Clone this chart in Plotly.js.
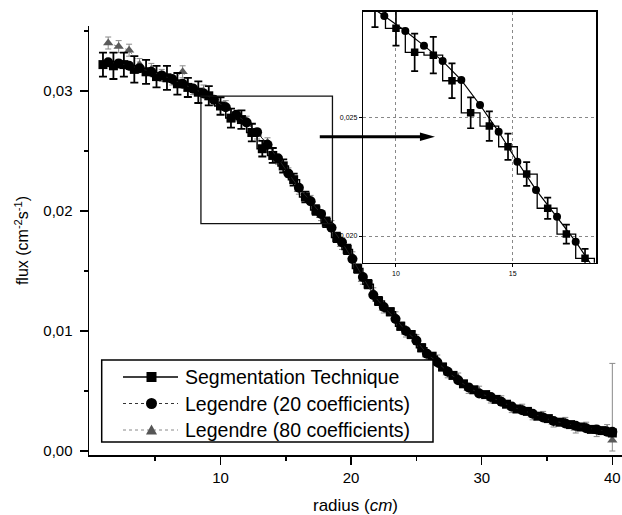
<!DOCTYPE html>
<html>
<head>
<meta charset="utf-8">
<script src="https://cdn.plot.ly/plotly-3.0.1.min.js"></script>
<style>html,body{margin:0;padding:0;background:#fff;}#chart{width:622px;height:515px;}</style>
</head>
<body>
<div id="chart"></div>
<script>
// ---- data ----
var seriesNames = ["Segmentation Technique", "Legendre (20 coefficients)", "Legendre (80 coefficients)"];

var segRadius = [1.0,1.8,2.6,3.4,4.3,5.1,5.9,6.7,7.5,8.3,9.1,
  10.0,10.8,11.6,12.4,13.2,14.0,14.8,15.6,16.5,17.3,18.1,
  18.9,19.7,20.5,21.3,22.1,23.0,23.8,24.6,25.4,26.2,27.0,27.8,28.6,29.4,30.3,31.1,31.9,32.7,33.5,34.3,35.1,36.0,36.8,37.6,38.4,39.2,40.0];
var segFlux = [0.0322,0.0321,0.0322,0.0318,0.0316,0.0312,0.0311,0.0306,0.0303,0.0299,0.0296,
  0.02875,0.02774,0.02762,0.02654,0.02519,0.02463,0.02376,0.02261,0.02117,0.02008,0.01906,
  0.0178,0.0168,0.0152,0.0139,0.0125,0.0116,0.0104,0.0097,0.0086,0.0079,0.0070,0.0063,0.0056,0.0051,0.0047,0.0043,0.0039,0.0035,0.0033,0.0029,0.0027,0.0024,0.0022,0.0020,0.0018,0.0017,0.0015];
var segErr = [0.0010,0.0011,0.0010,0.0011,0.0010,0.0009,0.0010,0.0009,0.0008,0.0009,0.0008,
  0.00073,0.00079,0.00077,0.00073,0.00065,0.00062,0.00055,0.0005,0.00045,0.0004,0.0004,
  0.0004,0.0004,0.00035,0.00035,0.00035,0.0003,0.0003,0.0003,0.0003,0.00028,0.00028,0.00025,0.00025,0.00025,0.00022,0.00022,0.0002,0.0002,0.0002,0.0002,0.00018,0.00018,0.00018,0.00018,0.00016,0.00016,0.00016];

var legRadius = [1.4,2.2,3.0,3.8,4.7,5.5,6.3,7.1,7.9,8.7,9.5,
  10.4,11.2,12.0,12.8,13.6,14.4,15.2,16.0,16.9,17.7,18.5,
  19.3,20.1,20.9,21.7,22.5,23.4,24.2,25.0,25.8,26.6,27.4,28.2,29.0,29.8,30.7,31.5,32.3,33.1,33.9,34.7,35.5,36.4,37.2,38.0,38.8,39.6,40.0];
var leg20Flux = [0.0324,0.0323,0.0321,0.0319,0.0316,0.0313,0.0310,0.0306,0.0302,0.0298,0.02927,
  0.02864,0.02802,0.02737,0.02657,0.02552,0.02439,0.02313,0.02194,0.02081,0.01976,0.0186,
  0.0174,0.0160,0.0145,0.0130,0.0120,0.0110,0.0100,0.0092,0.0081,0.0074,0.0066,0.0059,0.0053,0.0048,0.0045,0.0041,0.0037,0.0034,0.0031,0.0028,0.0025,0.0023,0.0021,0.0019,0.0018,0.0016,0.0016];
var leg80Flux = [0.0340,0.0337,0.0334,0.0322,0.0318,0.0313,0.0309,0.0316,0.0301,0.0300,0.0292,
  0.0288,0.0279,0.0275,0.0264,0.0257,0.0243,0.0232,0.0218,0.0209,0.0196,0.0188,
  0.0172,0.0162,0.0143,0.0132,0.0119,0.0112,0.0099,0.0093,0.0080,0.0076,0.0065,0.0061,0.0052,0.0050,0.0044,0.0042,0.0036,0.0035,0.0030,0.0029,0.0024,0.0024,0.0019,0.0020,0.0016,0.0018,0.0009];
var leg80ErrPlus = [0.0005,0.0005,0.0005,0.0005,0.0005,0.0005,0.0004,0.0005,0.0004,0.0005,0.0004,
  0.0004,0.0004,0.0004,0.0004,0.0004,0.0004,0.0004,0.0004,0.0004,0.0004,0.0004,
  0.0004,0.0004,0.0004,0.0004,0.0004,0.0004,0.0004,0.0004,0.0004,0.0004,0.0004,0.0004,0.0004,0.0004,0.0004,0.0004,0.0004,0.0004,0.0004,0.0004,0.0004,0.0004,0.0004,0.0004,0.0004,0.0004,0.0064];
var leg80ErrMinus = [0.0005,0.0005,0.0005,0.0005,0.0005,0.0005,0.0004,0.0005,0.0004,0.0005,0.0004,
  0.0004,0.0004,0.0004,0.0004,0.0004,0.0004,0.0004,0.0004,0.0004,0.0004,0.0004,
  0.0004,0.0004,0.0004,0.0004,0.0004,0.0004,0.0004,0.0004,0.0004,0.0004,0.0004,0.0004,0.0004,0.0004,0.0004,0.0004,0.0004,0.0004,0.0004,0.0004,0.0004,0.0004,0.0004,0.0004,0.0004,0.0004,0.0009];

var mainXTicks = [10,20,30,40];
var mainXMinor = [5,15,25,35];
var mainYTicks = [0,0.01,0.02,0.03];
var mainYMinor = [0.005,0.015,0.025,0.035];
var insetXTicks = [10,15];
var insetYTicks = [0.020,0.025];
var zoomBox = {x0: 8.5, x1: 18.57, y0: 0.01894, y1: 0.02958};

// ---- layout helpers ----
var W = 622, H = 515, M = {l: 89, r: 0, t: 10, b: 60};
var PW = W - M.l - M.r, PH = H - M.t - M.b;
function px(x) { return (x - M.l) / PW; }
function py(y) { return (H - M.b - y) / PH; }
var FONT = "Liberation Sans, Arial, Helvetica, sans-serif";

var traces = [
  // main plot
  {x: legRadius, y: leg80Flux, xaxis: 'x', yaxis: 'y', type: 'scatter', mode: 'lines+markers',
   name: seriesNames[2], line: {color: '#8a8a8a', width: 1, dash: 'dot'},
   marker: {symbol: 'triangle-up', size: 9, color: '#5a5a5a'},
   error_y: {type: 'data', symmetric: false, array: leg80ErrPlus, arrayminus: leg80ErrMinus, color: '#8a8a8a', thickness: 1, width: 3}},
  {x: segRadius, y: segFlux, xaxis: 'x', yaxis: 'y', type: 'scatter', mode: 'lines+markers',
   name: seriesNames[0], line: {color: '#000', width: 1.5, shape: 'hvh'},
   marker: {symbol: 'square', size: 9, color: '#000'},
   error_y: {type: 'data', array: segErr, color: '#000', thickness: 1.8, width: 4}},
  {x: legRadius, y: leg20Flux, xaxis: 'x', yaxis: 'y', type: 'scatter', mode: 'lines+markers',
   name: seriesNames[1], line: {color: '#222', width: 1},
   marker: {symbol: 'circle', size: 10, color: '#000'}},
  // inset
  {x: segRadius, y: segFlux, xaxis: 'x2', yaxis: 'y2', type: 'scatter', mode: 'lines+markers',
   name: seriesNames[0], line: {color: '#000', width: 1.3, shape: 'hvh'},
   marker: {symbol: 'square', size: 7.5, color: '#000'},
   error_y: {type: 'data', array: segErr, color: '#000', thickness: 1.7, width: 3.5}},
  {x: legRadius, y: leg20Flux, xaxis: 'x2', yaxis: 'y2', type: 'scatter', mode: 'lines+markers',
   name: seriesNames[1], line: {color: '#000', width: 1.2},
   marker: {symbol: 'circle', size: 8, color: '#000'}}
];

// custom legend (box, sample lines, symbols, text)
var rows = [377, 403.5, 430];
var lx0 = 123, lx1 = 178, lxc = 151.5, ltext = 183;
// arrow from the zoom box to the inset (data units of the main axes)
var arrow = {x0: 17.6, x1: 26.42, y: 0.02619, headLen: 1.15, headHalf: 0.00035};
var shapes = [
  {type: 'rect', xref: 'x', yref: 'y', x0: zoomBox.x0, x1: zoomBox.x1, y0: zoomBox.y0, y1: zoomBox.y1,
   line: {color: '#111', width: 1.3}},
  {type: 'line', xref: 'x', yref: 'y', x0: arrow.x0, x1: arrow.x1 - arrow.headLen + 0.1, y0: arrow.y, y1: arrow.y,
   line: {color: '#000', width: 3}},
  {type: 'path', xref: 'x', yref: 'y',
   path: 'M' + (arrow.x1 - arrow.headLen) + ',' + (arrow.y + arrow.headHalf) + ' L' + arrow.x1 + ',' + arrow.y +
         ' L' + (arrow.x1 - arrow.headLen) + ',' + (arrow.y - arrow.headHalf) + ' Z',
   line: {width: 0}, fillcolor: '#000'},
  {type: 'rect', xref: 'paper', yref: 'paper', x0: px(101.7), x1: px(433), y0: py(442), y1: py(360),
   line: {color: '#000', width: 1.5}, fillcolor: '#fff'},
  {type: 'line', xref: 'paper', yref: 'paper', x0: px(lx0), x1: px(lx1), y0: py(rows[0]), y1: py(rows[0]),
   line: {color: '#000', width: 1.6}},
  {type: 'line', xref: 'paper', yref: 'paper', x0: px(lx0), x1: px(lx1), y0: py(rows[1]), y1: py(rows[1]),
   line: {color: '#333', width: 1.2, dash: 'dot'}},
  {type: 'line', xref: 'paper', yref: 'paper', x0: px(lx0), x1: px(lx1), y0: py(rows[2]), y1: py(rows[2]),
   line: {color: '#888', width: 1, dash: 'dot'}},
  {type: 'rect', xref: 'paper', yref: 'paper', x0: px(lxc - 5), x1: px(lxc + 5), y0: py(rows[0] + 5), y1: py(rows[0] - 5),
   line: {width: 0}, fillcolor: '#000'},
  {type: 'circle', xref: 'paper', yref: 'paper', x0: px(lxc - 5.5), x1: px(lxc + 5.5), y0: py(rows[1] + 5.5), y1: py(rows[1] - 5.5),
   line: {width: 0}, fillcolor: '#000'},
  {type: 'path', xref: 'paper', yref: 'paper',
   path: 'M' + px(lxc - 5.5) + ',' + py(rows[2] + 4.5) + ' L' + px(lxc) + ',' + py(rows[2] - 5.5) + ' L' + px(lxc + 5.5) + ',' + py(rows[2] + 4.5) + ' Z',
   line: {width: 0}, fillcolor: '#555'}
];
shapes.forEach(function (s) { s.layer = 'above'; });

var annotations = [];
seriesNames.forEach(function (n, i) {
  annotations.push({xref: 'paper', yref: 'paper', x: px(ltext), y: py(rows[i]), xanchor: 'left', yanchor: 'middle',
    text: n, showarrow: false, font: {size: 19.5, color: '#000', family: FONT}});
});

var axisCommon = {showline: true, linecolor: '#000', linewidth: 1.5, ticks: 'outside', tickcolor: '#000',
  tickwidth: 1.5, showgrid: false, zeroline: false};

var layout = {
  width: W, height: H, margin: M, paper_bgcolor: '#fff', plot_bgcolor: 'rgba(0,0,0,0)',
  showlegend: false, separators: ',.',
  font: {family: FONT, color: '#000'},
  xaxis: Object.assign({}, axisCommon, {domain: [0, 1], anchor: 'y', range: [-0.07, 40.74],
    tickmode: 'array', tickvals: mainXTicks, ticklen: 8, tickfont: {size: 15}, ticklabelstandoff: 0,
    minor: {tickmode: 'array', tickvals: mainXMinor, ticks: 'outside', ticklen: 4, tickwidth: 1.5, tickcolor: '#000'},
    title: {text: 'radius (<i>cm</i>)', font: {size: 17}, standoff: 16}}),
  yaxis: Object.assign({}, axisCommon, {domain: [0, (H - M.b - 26) / PH], anchor: 'x', range: [-0.000333, 0.035417],
    tickmode: 'array', tickvals: mainYTicks, tickformat: '.2f', ticklen: 8, tickfont: {size: 15}, ticklabelstandoff: 4,
    minor: {tickmode: 'array', tickvals: mainYMinor, ticks: 'outside', ticklen: 4, tickwidth: 1.5, tickcolor: '#000'},
    title: {text: 'flux (cm<sup>-2</sup>s<sup>-1</sup>)', font: {size: 16}, standoff: 10}}),
  xaxis2: Object.assign({}, axisCommon, {domain: [px(363.3), px(596)], anchor: 'y2', range: [8.6, 18.57],
    tickmode: 'array', tickvals: insetXTicks, ticklen: 3, tickwidth: 1, tickfont: {size: 7}, mirror: true,
    showgrid: true, gridcolor: '#888', griddash: 'dot', gridwidth: 1}),
  yaxis2: Object.assign({}, axisCommon, {domain: [py(262.7), py(11.7)], anchor: 'x2', range: [0.018875, 0.02945],
    tickmode: 'array', tickvals: insetYTicks, tickformat: '.3f', ticklen: 3, tickwidth: 1, tickfont: {size: 7}, mirror: true,
    showgrid: true, gridcolor: '#888', griddash: 'dot', gridwidth: 1}),
  shapes: shapes,
  annotations: annotations
};

Plotly.newPlot('chart', traces, layout, {displayModeBar: false, staticPlot: true});
</script>
</body>
</html>
